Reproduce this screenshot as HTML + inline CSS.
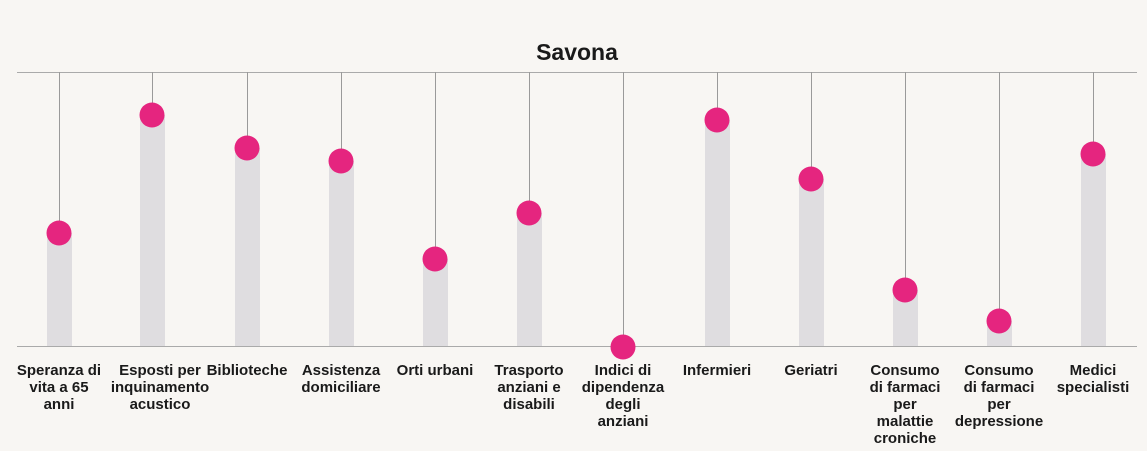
<!DOCTYPE html>
<html><head><meta charset="utf-8"><style>
html,body{margin:0;padding:0;background:#f8f6f3;}
svg{display:block;}
text{font-family:"Liberation Sans",sans-serif;font-weight:bold;fill:#1a1a1a;}
</style></head><body>
<svg width="1147" height="451" viewBox="0 0 1147 451">
<rect width="1147" height="451" fill="#f8f6f3"/>
<text x="577" y="60" font-size="23" text-anchor="middle">Savona</text>
<line x1="17" y1="72.5" x2="1137" y2="72.5" stroke="#aaa" stroke-width="1"/>
<line x1="17" y1="346.5" x2="1137" y2="346.5" stroke="#aaa" stroke-width="1"/>
<g font-size="15" text-anchor="middle">
<text x="59" y="375">Speranza di<tspan x="59" dy="17">vita a 65</tspan><tspan x="59" dy="17">anni</tspan></text>
<text x="160" y="375">Esposti per<tspan x="160" dy="17">inquinamento</tspan><tspan x="160" dy="17">acustico</tspan></text>
<text x="247" y="375">Biblioteche</text>
<text x="341" y="375">Assistenza<tspan x="341" dy="17">domiciliare</tspan></text>
<text x="435" y="375">Orti urbani</text>
<text x="529" y="375">Trasporto<tspan x="529" dy="17">anziani e</tspan><tspan x="529" dy="17">disabili</tspan></text>
<text x="623" y="375">Indici di<tspan x="623" dy="17">dipendenza</tspan><tspan x="623" dy="17">degli</tspan><tspan x="623" dy="17">anziani</tspan></text>
<text x="717" y="375">Infermieri</text>
<text x="811" y="375">Geriatri</text>
<text x="905" y="375">Consumo<tspan x="905" dy="17">di farmaci</tspan><tspan x="905" dy="17">per</tspan><tspan x="905" dy="17">malattie</tspan><tspan x="905" dy="17">croniche</tspan></text>
<text x="999" y="375">Consumo<tspan x="999" dy="17">di farmaci</tspan><tspan x="999" dy="17">per</tspan><tspan x="999" dy="17">depressione</tspan></text>
<text x="1093" y="375">Medici<tspan x="1093" dy="17">specialisti</tspan></text>
</g>
<g stroke="#9a9a9a" stroke-width="1">
<line x1="59.5" y1="72" x2="59.5" y2="346"/><line x1="152.5" y1="72" x2="152.5" y2="346"/>
<line x1="247.5" y1="72" x2="247.5" y2="346"/><line x1="341.5" y1="72" x2="341.5" y2="346"/>
<line x1="435.5" y1="72" x2="435.5" y2="346"/><line x1="529.5" y1="72" x2="529.5" y2="346"/>
<line x1="623.5" y1="72" x2="623.5" y2="346"/><line x1="717.5" y1="72" x2="717.5" y2="346"/>
<line x1="811.5" y1="72" x2="811.5" y2="346"/><line x1="905.5" y1="72" x2="905.5" y2="346"/>
<line x1="999.5" y1="72" x2="999.5" y2="346"/><line x1="1093.5" y1="72" x2="1093.5" y2="346"/>
</g>
<g fill="#dfdde0">
<rect x="47" y="233" width="25" height="113"/><rect x="140" y="115" width="25" height="231"/>
<rect x="235" y="148" width="25" height="198"/><rect x="329" y="161" width="25" height="185"/>
<rect x="423" y="259" width="25" height="87"/><rect x="517" y="213" width="25" height="133"/>
<rect x="705" y="120" width="25" height="226"/><rect x="799" y="179" width="25" height="167"/>
<rect x="893" y="290" width="25" height="56"/><rect x="987" y="321" width="25" height="25"/>
<rect x="1081" y="154" width="25" height="192"/>
</g>
<g fill="#e5257f">
<circle cx="59" cy="233" r="12.5"/><circle cx="152" cy="115" r="12.5"/>
<circle cx="247" cy="148" r="12.5"/><circle cx="341" cy="161" r="12.5"/>
<circle cx="435" cy="259" r="12.5"/><circle cx="529" cy="213" r="12.5"/>
<circle cx="623" cy="347" r="12.5"/><circle cx="717" cy="120" r="12.5"/>
<circle cx="811" cy="179" r="12.5"/><circle cx="905" cy="290" r="12.5"/>
<circle cx="999" cy="321" r="12.5"/><circle cx="1093" cy="154" r="12.5"/>
</g>
</svg>
</body></html>
